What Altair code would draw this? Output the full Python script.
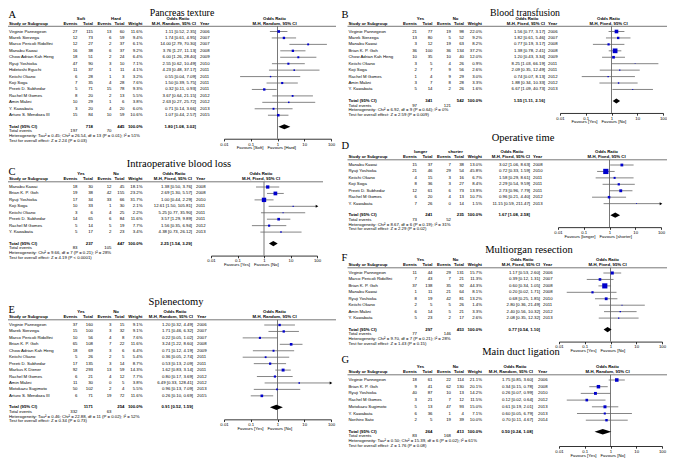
import altair as alt
import pandas as pd

# ------------------------------------------------------------------ data
# A  Pancreas texture
A_STUDY = ["Virginie Pannegeon", "Marek Sierzega", "Marco Pericoli Ridolfini", "Manabu Kawai",
           "Chow Adrian Kah Heng", "Ryuji Yoshioka", "Hidetoshi Eguchi", "Keiichi Okano", "Koji Soga",
           "Preeti D. Subhedar", "Rachel M Gomes", "Amin Makni", "Y. Kawabata", "Arturo S. Mendoza III"]
A_EV1 = [27, 12, 12, 16, 18, 47, 11, 6, 7, 5, 8, 10, 3, 15]
A_TOT1 = [115, 73, 27, 38, 51, 90, 37, 28, 35, 71, 20, 29, 20, 84]
A_EV2 = [13, 6, 2, 6, 2, 3, 1, 1, 4, 15, 2, 1, 4, 10]
A_TOT2 = [60, 59, 37, 37, 24, 10, 11, 3, 28, 78, 13, 6, 20, 59]
A_WT = [11.6, 9.4, 6.1, 9.2, 6.4, 7.1, 4.1, 3.2, 7.6, 9.3, 5.5, 3.8, 6.0, 10.6]
A_OR = [1.11, 1.74, 14.00, 3.76, 6.00, 2.55, 4.23, 0.55, 1.50, 0.32, 3.67, 2.63, 0.71, 1.07]
A_LO = [0.52, 0.61, 2.79, 1.27, 1.26, 0.62, 0.48, 0.04, 0.39, 0.11, 0.64, 0.27, 0.14, 0.44]
A_HI = [2.35, 4.95, 70.30, 11.13, 28.40, 10.49, 37.17, 7.09, 5.75, 0.93, 21.15, 25.72, 3.66, 2.57]
A_YEAR = [2006, 2007, 2007, 2008, 2009, 2010, 2011, 2011, 2011, 2011, 2012, 2012, 2013, 2015]
A_TOTAL = [718, 445, 1.80, 1.08, 3.02]
A_EVENTS = [197, 70]
A_HET = "Heterogeneity: Tau² = 0.45; Chi² = 26.54, df = 13 (P = 0.01); I² = 51%"
A_TEST = "Test for overall effect: Z = 2.24 (P = 0.03)"

# B  Blood transfusion
B_STUDY = ["Virginie Pannegeon", "Marek Sierzega", "Manabu Kawai", "Brian K. P. Goh", "Chow Adrian Kah Heng",
           "Keiichi Okano", "Koji Soga", "Rachel M Gomes", "Amin Makni", "Y. Kawabata"]
B_EV1 = [21, 13, 3, 36, 10, 3, 2, 1, 3, 5]
B_TOT1 = [77, 80, 12, 100, 35, 5, 7, 4, 7, 14]
B_EV2 = [19, 5, 19, 36, 10, 4, 9, 9, 8, 2]
B_TOT2 = [98, 52, 63, 134, 40, 26, 56, 29, 28, 26]
B_WT = [22.0, 9.2, 8.2, 37.2, 12.0, 0.9, 2.6, 3.0, 3.3, 1.6]
B_OR = [1.56, 1.82, 0.77, 1.38, 1.20, 8.25, 2.09, 0.74, 1.88, 6.67]
B_LO = [0.77, 0.61, 0.19, 0.78, 0.43, 1.03, 0.35, 0.07, 0.34, 1.09]
B_HI = [3.17, 5.46, 3.17, 2.41, 3.34, 66.19, 12.49, 8.13, 10.33, 40.73]
B_YEAR = [2006, 2007, 2008, 2008, 2009, 2011, 2011, 2012, 2012, 2013]
B_TOTAL = [341, 542, 1.55, 1.11, 2.16]
B_EVENTS = [97, 121]
B_HET = "Heterogeneity: Chi² = 6.92, df = 9 (P = 0.64); I² = 0%"
B_TEST = "Test for overall effect: Z = 2.59 (P = 0.009)"

# C  Intraoperative blood loss
C_STUDY = ["Manabu Kawai", "Brian K. P. Goh", "Ryuji Yoshioka", "Koji Soga", "Keiichi Okano",
           "Preeti D. Subhedar", "Rachel M Gomes", "Y. Kawabata"]
C_EV1 = [18, 19, 17, 10, 3, 14, 5, 5]
C_TOT1 = [30, 38, 34, 33, 6, 65, 14, 17]
C_EV2 = [12, 42, 33, 1, 4, 6, 5, 2]
C_TOT2 = [45, 155, 66, 30, 25, 84, 19, 23]
C_WT = [18.1, 23.2, 31.7, 2.1, 2.2, 11.6, 7.7, 3.4]
C_OR = [1.38, 2.69, 1.00, 12.61, 5.25, 3.57, 1.56, 4.38]
C_LO = [0.50, 1.30, 0.44, 1.50, 0.77, 1.29, 0.35, 0.73]
C_HI = [3.76, 5.57, 2.29, 105.81, 35.90, 9.89, 6.94, 26.12]
C_YEAR = [2008, 2008, 2010, 2011, 2011, 2011, 2012, 2013]
C_TOTAL = [237, 447, 2.25, 1.54, 3.29]
C_EVENTS = [83, 105]
C_HET = "Heterogeneity: Chi² = 9.66, df = 7 (P = 0.21); I² = 28%"
C_TEST = "Test for overall effect: Z = 4.19 (P < 0.0001)"

# D  Operative time
D_STUDY = ["Manabu Kawai", "Ryuji Yoshioka", "Keiichi Okano", "Koji Soga", "Preeti D. Subhedar",
           "Rachel M Gomes", "Y. Kawabata"]
D_EV1 = [15, 21, 4, 8, 12, 6, 7]
D_TOT1 = [37, 46, 15, 36, 61, 20, 26]
D_EV2 = [7, 29, 3, 3, 6, 4, 0]
D_TOT2 = [38, 54, 16, 27, 73, 13, 14]
D_WT = [13.0, 45.8, 6.7, 8.4, 13.9, 10.7, 1.5]
D_OR = [3.02, 0.72, 1.58, 2.29, 2.73, 0.96, 11.15]
D_LO = [1.06, 0.33, 0.29, 0.54, 0.96, 0.21, 0.59]
D_HI = [8.63, 1.59, 8.61, 9.59, 7.79, 4.40, 211.47]
D_YEAR = [2008, 2010, 2011, 2011, 2011, 2012, 2013]
D_TOTAL = [241, 235, 1.67, 1.08, 2.58]
D_EVENTS = [73, 52]
D_HET = "Heterogeneity: Chi² = 8.67, df = 6 (P = 0.19); I² = 31%"
D_TEST = "Test for overall effect: Z = 2.29 (P = 0.02)"

# E  Splenectomy
E_STUDY = ["Virginie Pannegeon", "Marek Sierzega", "Marco Pericoli Ridolfini", "Brian K. P. Goh",
           "Chow Adrian Kah Heng", "Keiichi Okano", "Preeti D. Subhedar", "Markus K Diener",
           "Rachel M Gomes", "Amin Makni", "Motokazu Sugimoto", "Arturo S. Mendoza III"]
E_EV1 = [37, 15, 10, 65, 18, 5, 17, 92, 6, 11, 50, 6]
E_TOT1 = [160, 100, 56, 108, 69, 26, 135, 293, 21, 30, 102, 71]
E_EV2 = [3, 3, 4, 7, 3, 2, 3, 13, 4, 0, 2, 19]
E_TOT2 = [15, 32, 8, 22, 6, 5, 14, 59, 12, 5, 4, 72]
E_WT = [9.1, 9.1, 7.6, 11.6, 6.4, 5.4, 8.7, 14.3, 7.7, 3.8, 5.5, 11.6]
E_OR = [1.20, 1.71, 0.22, 3.24, 0.71, 0.36, 0.53, 1.62, 0.80, 6.49, 0.96, 0.26]
E_LO = [0.32, 0.46, 0.05, 1.22, 0.12, 0.05, 0.13, 0.83, 0.17, 0.33, 0.13, 0.10]
E_HI = [4.49, 6.32, 1.02, 8.60, 4.19, 2.74, 2.09, 3.14, 3.69, 128.41, 7.09, 0.69]
E_YEAR = [2006, 2007, 2007, 2008, 2009, 2011, 2011, 2011, 2012, 2012, 2013, 2015]
E_TOTAL = [1171, 254, 0.91, 0.52, 1.59]
E_EVENTS = [332, 63]
E_HET = "Heterogeneity: Tau² = 0.46; Chi² = 22.88, df = 11 (P = 0.02); I² = 52%"
E_TEST = "Test for overall effect: Z = 0.34 (P = 0.73)"

# F  Multiorgan resection
F_STUDY = ["Virginie Pannegeon", "Marco Pericoli Ridolfini", "Brian K. P. Goh", "Manabu Kawai",
           "Ryuji Yoshioka", "Keiichi Okano", "Amin Makni", "Y. Kawabata"]
F_EV1 = [11, 7, 37, 1, 8, 2, 6, 5]
F_TOT1 = [44, 43, 138, 11, 19, 5, 14, 23]
F_EV2 = [29, 7, 35, 21, 42, 5, 5, 2]
F_TOT2 = [131, 21, 92, 64, 81, 26, 21, 17]
F_WT = [15.7, 11.3, 44.3, 8.1, 13.2, 1.4, 3.3, 2.6]
F_OR = [1.17, 0.39, 0.60, 0.20, 0.68, 2.80, 2.40, 2.08]
F_LO = [0.53, 0.12, 0.34, 0.02, 0.25, 0.36, 0.56, 0.35]
F_HI = [2.60, 1.31, 1.05, 1.71, 1.85, 21.49, 10.32, 12.32]
F_YEAR = [2006, 2007, 2008, 2008, 2010, 2011, 2012, 2013]
F_TOTAL = [297, 453, 0.77, 0.54, 1.10]
F_EVENTS = [77, 146]
F_HET = "Heterogeneity: Chi² = 9.70, df = 7 (P = 0.21); I² = 28%"
F_TEST = "Test for overall effect: Z = 1.43 (P = 0.15)"

# G  Main duct ligation
G_STUDY = ["Virginie Pannegeon", "Brian K. P. Goh", "Ryuji Yoshioka", "Rachel M Gomes",
           "Motokazu Sugimoto", "Y. Kawabata", "Norihiro Sato"]
G_EV1 = [18, 9, 40, 3, 5, 6, 2]
G_TOT1 = [61, 41, 87, 21, 13, 36, 5]
G_EV2 = [22, 62, 10, 7, 47, 1, 19]
G_TOT2 = [114, 130, 13, 12, 93, 4, 39]
G_WT = [21.1, 20.1, 14.2, 11.5, 15.0, 7.1, 10.0]
G_OR = [1.75, 0.34, 0.26, 0.12, 0.61, 0.60, 0.70]
G_LO = [0.85, 0.15, 0.07, 0.02, 0.19, 0.05, 0.11]
G_HI = [3.60, 0.78, 0.99, 0.64, 2.01, 6.79, 4.67]
G_YEAR = [2006, 2008, 2010, 2012, 2013, 2013, 2014]
G_TOTAL = [264, 413, 0.50, 0.24, 1.08]
G_EVENTS = [83, 168]
G_HET = "Heterogeneity: Tau² = 0.50; Chi² = 15.39, df = 6 (P = 0.02); I² = 61%"
G_TEST = "Test for overall effect: Z = 1.76 (P = 0.08)"

TICKS = [0.01, 0.1, 1, 10, 100]

# ------------------------------------------------------------------ layout / style
W, H = 659, 451
FONT = "Liberation Sans"
SERIF = "Liberation Serif"
FS = 4.3
DUMMY = pd.DataFrame({"d": [0]})
RANDOM = "M-H, Random, 95% CI"
FIXED = "M-H, Fixed, 95% CI"

PANELS = [
    dict(key="A", title="Pancreas texture", g=("Soft", "Hard"), method=RANDOM, side="L",
         title_y=12.8, title_size=9.8, letter_y=14.5, ty=8.5, tx=182, or_r=196, yr=200, fx=(224, 331),
         ul_r=336, fav=("Favours [Soft]", "Favours [Hard]"),
         d=(A_STUDY, A_EV1, A_TOT1, A_EV2, A_TOT2, A_WT, A_OR, A_LO, A_HI, A_YEAR, A_TOTAL, A_EVENTS, A_HET, A_TEST)),
    dict(key="B", title="Blood transfusion", g=("Yes", "No"), method=FIXED, side="R",
         title_y=12.8, title_size=9.8, letter_y=14.5, ty=8.5, tx=525, or_r=545, yr=548, fx=(560, 663),
         ul_r=675, fav=("Favours [Yes]", "Favours [No]"),
         d=(B_STUDY, B_EV1, B_TOT1, B_EV2, B_TOT2, B_WT, B_OR, B_LO, B_HI, B_YEAR, B_TOTAL, B_EVENTS, B_HET, B_TEST)),
    dict(key="C", title="Intraoperative blood loss", g=("Yes", "No"), method=FIXED, side="L",
         title_y=164, ty=164, tx=179, or_r=192, yr=196, fx=(211, 317), ul_r=323,
         fav=("Favours [Yes]", "Favours [No]"),
         d=(C_STUDY, C_EV1, C_TOT1, C_EV2, C_TOT2, C_WT, C_OR, C_LO, C_HI, C_YEAR, C_TOTAL, C_EVENTS, C_HET, C_TEST)),
    dict(key="D", title="Operative time", g=("longer", "shorter"), method=FIXED, side="R",
         title_y=138, ty=142, tx=523, or_r=530, yr=533, fx=(558, 661), ul_r=675,
         fav=("Favours [longer]", "Favours [shorter]"),
         d=(D_STUDY, D_EV1, D_TOT1, D_EV2, D_TOT2, D_WT, D_OR, D_LO, D_HI, D_YEAR, D_TOTAL, D_EVENTS, D_HET, D_TEST)),
    dict(key="E", title="Splenectomy", g=("Yes", "No"), method=RANDOM, side="L",
         title_y=302, ty=302, tx=176, or_r=193, yr=197, fx=(224, 331), ul_r=336,
         fav=("Favours [Yes]", "Favours [No]"),
         d=(E_STUDY, E_EV1, E_TOT1, E_EV2, E_TOT2, E_WT, E_OR, E_LO, E_HI, E_YEAR, E_TOTAL, E_EVENTS, E_HET, E_TEST)),
    dict(key="F", title="Multiorgan resection", g=("Yes", "No"), method=FIXED, side="R",
         title_y=250, ty=250, tx=529, or_r=540, yr=543, fx=(559, 662), ul_r=675,
         fav=("Favours [Yes]", "Favours [No]"),
         d=(F_STUDY, F_EV1, F_TOT1, F_EV2, F_TOT2, F_WT, F_OR, F_LO, F_HI, F_YEAR, F_TOTAL, F_EVENTS, F_HET, F_TEST)),
    dict(key="G", title="Main duct ligation", g=("Yes", "No"), method=RANDOM, side="R",
         title_y=352, ty=357, tx=521, or_r=533, yr=538, fx=(559, 662), ul_r=675, dy=6.7, ax_dy=14.3,
         fav=("Favours [Yes]", "Favours [No]"),
         d=(G_STUDY, G_EV1, G_TOT1, G_EV2, G_TOT2, G_WT, G_OR, G_LO, G_HI, G_YEAR, G_TOTAL, G_EVENTS, G_HET, G_TEST)),
]


def px(v):
    return v - 8


def label(s, x, y, align="left", bold=False, size=FS, font=FONT):
    return alt.Chart(DUMMY).mark_text(
        text=s, align=align, baseline="middle", font=font, fontSize=size,
        fontWeight="bold" if bold else "normal", color="black"
    ).encode(x=alt.value(px(x)), y=alt.value(px(y)))


def hline(x0, x1, y, color="#555555", w=0.8):
    return alt.Chart(DUMMY).mark_rule(color=color, strokeWidth=w).encode(
        x=alt.value(px(x0)), x2=alt.value(min(px(x1), W)), y=alt.value(px(y)))


def fmt_ci(o, l, h):
    return f"{o:.2f} [{l:.2f}, {h:.2f}]"


def panel(m):
    study, e1, t1, e2, t2, wt, orr, lo, hi, yr, total, events, het, test = m["d"]
    off = 0 if m["side"] == "L" else 339.5
    dy = m.get("dy", 6.44)
    ty = m["ty"]
    n = len(study)
    row0 = ty + 23
    h1_y, h2_y, ul_y = ty + 10, ty + 15, ty + 17.8
    last = row0 + (n - 1) * dy
    tot_y = last + 11.5
    ev_y, het_y, test_y = tot_y + 4.7, tot_y + 9.4, tot_y + 14.1
    ax_y = tot_y + m.get("ax_dy", 12)
    fx0, fx1 = m["fx"]
    cx = (fx0 + fx1) / 2

    ys = alt.Scale(domain=[0, 10], range=[px(row0), px(row0 + 10 * dy)], nice=False, zero=False)
    xs = alt.Scale(type="log", domain=[0.01, 100], range=[px(fx0), px(fx1)], nice=False, clamp=True)
    Y = alt.Y("row:Q", scale=ys, axis=None)

    df = pd.DataFrame({
        "row": list(range(n)),
        "study": study,
        "e1": [str(v) for v in e1], "t1": [str(v) for v in t1],
        "e2": [str(v) for v in e2], "t2": [str(v) for v in t2],
        "wtt": [f"{v:.1f}%" for v in wt],
        "ort": [fmt_ci(o, l, h) for o, l, h in zip(orr, lo, hi)],
        "yr": [str(v) for v in yr],
        "or": orr, "lo": lo, "hi": hi, "w": wt,
    })

    def col(field, x, align):
        return alt.Chart(df).mark_text(
            align=align, baseline="middle", font=FONT, fontSize=FS, color="black"
        ).encode(x=alt.value(px(x)), y=Y, text=f"{field}:N")

    c_e1, c_t1, c_e2, c_t2, c_w = off + 77.5, off + 93, off + 111.5, off + 124.5, off + 142.5

    L = []
    # title and panel letter
    L.append(label(m["title"], m["tx"], m["title_y"], "center", size=m.get("title_size", 10.5), font=SERIF))
    L.append(label(m["key"], max(off + 2, 8.5), m.get("letter_y", m["title_y"] + 8), "left",
                   size=10.5, font=SERIF))
    # headers
    L.append(label(m["g"][0], off + 81, h1_y, "center", bold=True))
    L.append(label(m["g"][1], off + 116, h1_y, "center", bold=True))
    L.append(label("Odds Ratio", m["or_r"] - 18, h1_y, "center", bold=True))
    L.append(label("Odds Ratio", cx - 3, h1_y, "center", bold=True))
    L.append(label("Study or Subgroup", off + 9, h2_y, "left", bold=True))
    L.append(label("Events", c_e1, h2_y, "right", bold=True))
    L.append(label("Total", c_t1, h2_y, "right", bold=True))
    L.append(label("Events", c_e2, h2_y, "right", bold=True))
    L.append(label("Total", c_t2, h2_y, "right", bold=True))
    L.append(label("Weight", c_w, h2_y, "right", bold=True))
    L.append(label(m["method"], m["or_r"], h2_y, "right", bold=True))
    L.append(label("Year", m["yr"], h2_y, "left", bold=True))
    L.append(label(m["method"], cx - 3, h2_y, "center", bold=True))
    L.append(hline(off + 8, m["ul_r"], ul_y))

    # study table
    L.append(col("study", off + 9, "left"))
    L.append(col("e1", c_e1, "right"))
    L.append(col("t1", c_t1, "right"))
    L.append(col("e2", c_e2, "right"))
    L.append(col("t2", c_t2, "right"))
    L.append(col("wtt", c_w, "right"))
    L.append(col("ort", m["or_r"], "right"))
    L.append(col("yr", m["yr"], "left"))

    # totals
    L.append(label("Total (95% CI)", off + 9, tot_y, "left", bold=True))
    L.append(label(str(total[0]), c_t1, tot_y, "right", bold=True))
    L.append(label(str(total[1]), c_t2, tot_y, "right", bold=True))
    L.append(label("100.0%", c_w, tot_y, "right", bold=True))
    L.append(label(fmt_ci(total[2], total[3], total[4]), m["or_r"], tot_y, "right", bold=True))
    L.append(label("Total events", off + 9, ev_y, "left"))
    L.append(label(str(events[0]), c_e1, ev_y, "right"))
    L.append(label(str(events[1]), c_e2, ev_y, "right"))
    L.append(label(het, off + 9, het_y, "left"))
    L.append(label(test, off + 9, test_y, "left"))

    # forest plot
    vline = alt.Chart(pd.DataFrame({"v": [1.0]})).mark_rule(color="#555555", strokeWidth=0.8).encode(
        x=alt.X("v:Q", scale=xs, axis=None), y=alt.value(px(ul_y)), y2=alt.value(px(ax_y)))
    ci = alt.Chart(df).mark_rule(color="#666666", strokeWidth=0.8).encode(
        x=alt.X("lo:Q", scale=xs, axis=alt.Axis(
            orient="bottom", offset=px(ax_y) - H, values=TICKS, format="~g", grid=False, title=None,
            labelFont=FONT, labelFontSize=FS, labelColor="black", labelPadding=1.2,
            tickSize=2.2, tickColor="black", tickWidth=0.8, domainColor="black", domainWidth=0.8,
            labelFlush=False, labelOverlap=False)),
        x2="hi:Q", y=Y)
    sq = alt.Chart(df).mark_square(color="#0000cc", opacity=1).encode(
        x=alt.X("or:Q", scale=xs, axis=None), y=Y,
        size=alt.Size("w:Q", scale=alt.Scale(domain=[0, 100], range=[0, 60]), legend=None))
    arr = alt.Chart(df).transform_filter("datum.hi > 100").mark_point(
        shape="triangle-right", filled=True, color="black", size=9, opacity=1).encode(
        x=alt.X("hi:Q", scale=xs, axis=None), y=Y)
    trow = (tot_y - row0) / dy
    dd = pd.DataFrame({"x": [total[3], total[2], total[4]],
                       "y": [trow, trow - 0.4, trow],
                       "y2": [trow, trow + 0.4, trow]})
    dia = alt.Chart(dd).mark_area(color="black", orient="vertical", opacity=1).encode(
        x=alt.X("x:Q", scale=xs, axis=None), y=alt.Y("y:Q", scale=ys, axis=None), y2="y2:Q")
    L += [vline, ci, sq, arr, dia]
    L.append(label(m["fav"][0], cx - 14, ax_y + 9.5, "right"))
    L.append(label(m["fav"][1], cx - 10, ax_y + 9.5, "left"))
    return L


layers = []
for p in PANELS:
    layers += panel(p)

chart = alt.layer(*layers).resolve_scale(x="independent", y="independent").properties(
    width=W, height=H, padding=0, autosize=alt.AutoSizeParams(type="none")
).configure_view(stroke=None)

chart.save("out.html", embed_options={"renderer": "svg", "actions": False})
